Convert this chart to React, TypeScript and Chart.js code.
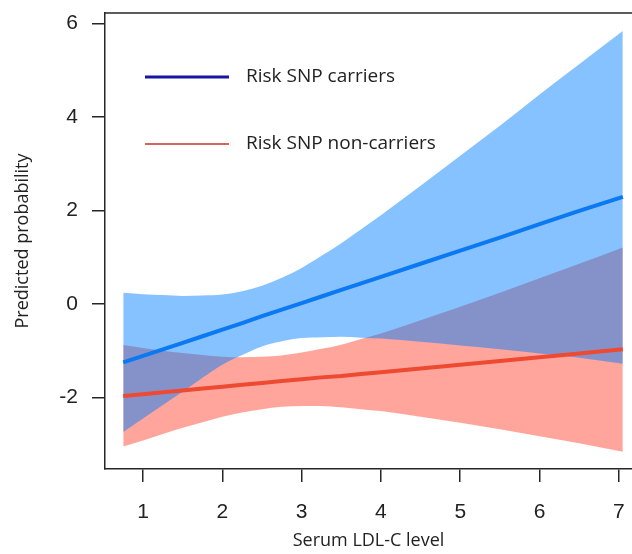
import React, { useEffect, useRef } from "react";
import { Chart, registerables } from "chart.js";

Chart.register(...registerables);

// ---- Data ----
const ldl = [0.75, 1, 1.25, 1.5, 1.75, 2, 2.25, 2.5, 2.75, 3, 3.25, 3.5, 3.75, 4, 4.5, 5, 5.5, 6, 6.5, 7.05];

const carriersFit = [-1.25, -1.11, -0.97, -0.83, -0.69, -0.55, -0.41, -0.26, -0.12, 0.02, 0.16, 0.3, 0.44, 0.58, 0.86, 1.14, 1.42, 1.71, 1.99, 2.29];
const carriersUpper = [0.24, 0.21, 0.19, 0.17, 0.18, 0.2, 0.27, 0.39, 0.56, 0.77, 1.03, 1.3, 1.6, 1.9, 2.53, 3.17, 3.81, 4.48, 5.13, 5.84];
const carriersLower = [-2.74, -2.45, -2.16, -1.88, -1.58, -1.3, -1.09, -0.91, -0.8, -0.73, -0.71, -0.7, -0.72, -0.74, -0.81, -0.89, -0.97, -1.06, -1.15, -1.28];

const nonCarriersFit = [-1.97, -1.93, -1.89, -1.85, -1.81, -1.77, -1.73, -1.69, -1.65, -1.61, -1.57, -1.54, -1.5, -1.46, -1.38, -1.3, -1.22, -1.14, -1.06, -0.97];
const nonCarriersUpper = [-0.88, -0.94, -1.0, -1.05, -1.09, -1.13, -1.14, -1.13, -1.1, -1.04, -0.96, -0.87, -0.75, -0.63, -0.35, -0.06, 0.24, 0.55, 0.86, 1.21];
const nonCarriersLower = [-3.05, -2.92, -2.78, -2.65, -2.53, -2.41, -2.32, -2.25, -2.2, -2.18, -2.18, -2.21, -2.25, -2.29, -2.41, -2.54, -2.68, -2.83, -2.98, -3.16];

const xTicks = [1, 2, 3, 4, 5, 6, 7];
const yTicks = [-2, 0, 2, 4, 6];
const seriesLabels = ["Risk SNP carriers", "Risk SNP non-carriers"];
const xTitle = "Serum LDL-C level";
const yTitle = "Predicted probability";

// ---- Styles ----
const AXIS_COLOR = "#262626";
const TEXT_COLOR = "#222222";
const TICK_FONT = { family: '"Liberation Sans", Arial, sans-serif', size: 21 };
const TITLE_FONT = { family: '"Open Sans", "Noto Sans", sans-serif', size: 18 };

const pts = (ys: number[]) => ldl.map((x, i) => ({ x, y: ys[i] }));

const topBorderPlugin = {
  id: "topBorder",
  afterDraw(chart: any) {
    const { ctx, chartArea } = chart;
    ctx.save();
    ctx.strokeStyle = AXIS_COLOR;
    ctx.lineWidth = 1.5;
    ctx.beginPath();
    ctx.moveTo(chartArea.left - 0.75, chartArea.top);
    ctx.lineTo(chartArea.right, chartArea.top);
    ctx.stroke();
    ctx.restore();
  },
};

const insetLegendPlugin = {
  id: "insetLegend",
  afterDraw(chart: any) {
    const { ctx, chartArea } = chart;
    const items = [
      { label: seriesLabels[0], color: "#1616a6", width: 3, dy: 64 },
      { label: seriesLabels[1], color: "#d8625e", width: 2, dy: 131 },
    ];
    ctx.save();
    items.forEach((it) => {
      const y = chartArea.top + it.dy;
      const x0 = chartArea.left + 40;
      ctx.strokeStyle = it.color;
      ctx.lineWidth = it.width;
      ctx.beginPath();
      ctx.moveTo(x0, y);
      ctx.lineTo(x0 + 84, y);
      ctx.stroke();
      ctx.fillStyle = TEXT_COLOR;
      ctx.font = '19px "Open Sans", "Noto Sans", sans-serif';
      ctx.textBaseline = "middle";
      ctx.textAlign = "left";
      ctx.fillText(it.label, x0 + 101, y);
    });
    ctx.restore();
  },
};

export default function App() {
  const canvasRef = useRef<HTMLCanvasElement | null>(null);

  useEffect(() => {
    if (!canvasRef.current) return;
    const band = {
      borderWidth: 0,
      borderColor: "rgba(0,0,0,0)",
      pointRadius: 0,
      cubicInterpolationMode: "monotone" as const,
    };
    const chart = new Chart(canvasRef.current, {
      type: "line",
      data: {
        datasets: [
          { ...band, label: "non-carriers upper", data: pts(nonCarriersUpper), fill: "+1", backgroundColor: "rgba(255,75,55,0.5)", order: 5 },
          { ...band, label: "non-carriers lower", data: pts(nonCarriersLower), fill: false, order: 5 },
          { ...band, label: "carriers upper", data: pts(carriersUpper), fill: "+1", backgroundColor: "rgba(0,128,255,0.48)", order: 3 },
          { ...band, label: "carriers lower", data: pts(carriersLower), fill: false, order: 3 },
          { label: seriesLabels[0], data: pts(carriersFit), borderColor: "#0b79f2", borderWidth: 4, pointRadius: 0, fill: false, order: 1 },
          { label: seriesLabels[1], data: pts(nonCarriersFit), borderColor: "#ee4a32", borderWidth: 4, pointRadius: 0, fill: false, order: 0 },
        ],
      },
      options: {
        animation: false,
        responsive: false,
        maintainAspectRatio: false,
        layout: { padding: { top: 13, left: 0, right: 0, bottom: 0 } },
        plugins: {
          legend: { display: false },
          tooltip: { enabled: false },
        },
        scales: {
          x: {
            type: "linear",
            min: 0.52,
            max: 7.166,
            afterBuildTicks: (s: any) => {
              s.ticks = xTicks.map((v) => ({ value: v }));
            },
            afterFit: (s: any) => {
              s.height = 85;
              s.paddingLeft = 0;
              s.paddingRight = 0;
            },
            grid: { drawOnChartArea: false, drawTicks: true, tickLength: 13, color: AXIS_COLOR, lineWidth: 1.5, tickWidth: 1.5 },
            border: { display: true, color: AXIS_COLOR, width: 1.5 },
            ticks: { padding: 18, maxRotation: 0, autoSkip: false, color: TEXT_COLOR, font: TICK_FONT },
            title: { display: true, text: xTitle, color: TEXT_COLOR, font: TITLE_FONT, padding: { top: 0, bottom: 2 } },
          },
          y: {
            type: "linear",
            min: -3.53,
            max: 6.224,
            afterBuildTicks: (s: any) => {
              s.ticks = yTicks.map((v) => ({ value: v }));
            },
            afterFit: (s: any) => {
              s.width = 105;
              s.paddingTop = 0;
              s.paddingBottom = 0;
            },
            grid: { drawOnChartArea: false, drawTicks: true, tickLength: 13, color: AXIS_COLOR, lineWidth: 1.5, tickWidth: 1.5 },
            border: { display: true, color: AXIS_COLOR, width: 1.5 },
            ticks: { padding: 14, color: TEXT_COLOR, font: TICK_FONT },
            title: { display: true, text: yTitle, color: TEXT_COLOR, font: TITLE_FONT, padding: { top: 12, bottom: 0 } },
          },
        },
      },
      plugins: [topBorderPlugin, insetLegendPlugin],
    });
    return () => chart.destroy();
  }, []);

  return (
    <div style={{ position: "absolute", left: 0, top: 0, width: 632, height: 554, background: "#fff" }}>
      <canvas ref={canvasRef} width={632} height={554} style={{ display: "block" }} />
    </div>
  );
}
